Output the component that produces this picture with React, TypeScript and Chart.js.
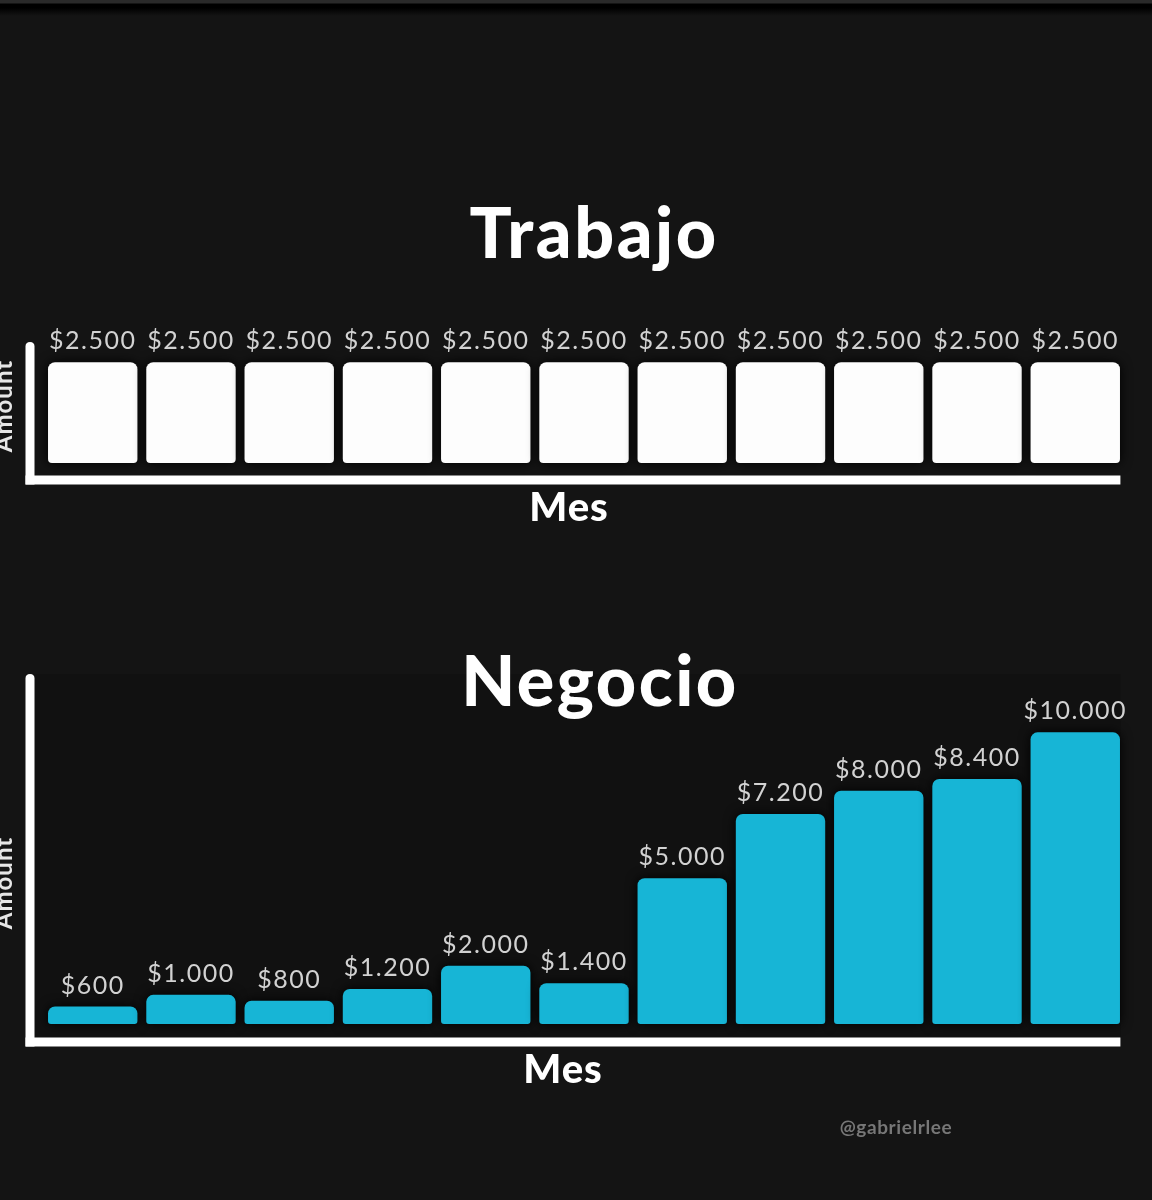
import React, { useEffect, useRef } from 'react';
import { Chart, registerables } from 'chart.js';

Chart.register(...registerables);

// ---- data ----
const months = ['Ene', 'Feb', 'Mar', 'Abr', 'May', 'Jun', 'Jul', 'Ago', 'Sep', 'Oct', 'Nov'];
const trabajoValues = [2500, 2500, 2500, 2500, 2500, 2500, 2500, 2500, 2500, 2500, 2500];
const negocioValues = [600, 1000, 800, 1200, 2000, 1400, 5000, 7200, 8000, 8400, 10000];
const trabajoTitle = 'Trabajo';
const negocioTitle = 'Negocio';
const xAxisTitle = 'Mes';
const yAxisTitle = 'Amount';
const watermark = '@gabrielrlee';

const fmt = (v: number) => '$' + String(v).replace(/\B(?=(\d{3})+(?!\d))/g, '.');

const FONT = "Lato, 'Open Sans', sans-serif";

const decorPlugin = {
  id: 'decor',
  beforeDatasetsDraw(chart: any, _args: any, opts: any) {
    const { ctx, chartArea } = chart;
    const lw = opts.lineW;
    const vx = chartArea.left - opts.axisOffsetX;
    const hy = chartArea.bottom + opts.axisOffsetY;
    ctx.save();
    if (opts.plotBg) {
      ctx.fillStyle = opts.plotBg;
      ctx.fillRect(vx + lw / 2, chartArea.top, chartArea.right - opts.lineRightInset - (vx + lw / 2), hy - lw / 2 - chartArea.top);
    }
    ctx.fillStyle = '#ffffff';
    ctx.beginPath();
    const top = chartArea.top + opts.vTopInset;
    ctx.moveTo(vx - lw / 2, hy + lw / 2);
    ctx.lineTo(vx - lw / 2, top + lw / 2);
    ctx.quadraticCurveTo(vx - lw / 2, top, vx, top);
    ctx.quadraticCurveTo(vx + lw / 2, top, vx + lw / 2, top + lw / 2);
    ctx.lineTo(vx + lw / 2, hy + lw / 2);
    ctx.closePath();
    ctx.fill();
    ctx.fillRect(vx - lw / 2, hy - lw / 2, chartArea.right - opts.lineRightInset - (vx - lw / 2), lw);
    ctx.restore();
    ctx.save();
    ctx.shadowColor = 'rgba(0,0,0,1)';
    ctx.shadowBlur = opts.shadowBlur;
  },
  afterDatasetsDraw(chart: any, _args: any, opts: any) {
    const { ctx } = chart;
    ctx.restore();
    const meta = chart.getDatasetMeta(0);
    const values = chart.data.datasets[0].data;
    ctx.save();
    ctx.fillStyle = opts.labelColor;
    ctx.font = `400 ${opts.labelSize}px ${FONT}`;
    ctx.textAlign = 'center';
    ctx.textBaseline = 'alphabetic';
    (ctx as any).letterSpacing = opts.labelSpacing + 'px';
    meta.data.forEach((bar: any, i: number) => {
      ctx.fillText(fmt(values[i]), bar.x, bar.y - opts.labelGap);
    });
    ctx.restore();
  },
  afterDraw(chart: any, _args: any, opts: any) {
    const { ctx } = chart;
    ctx.save();
    ctx.fillStyle = '#ffffff';
    ctx.textAlign = 'center';
    ctx.textBaseline = 'alphabetic';
    (ctx as any).letterSpacing = opts.titleSpacing + 'px';
    ctx.font = `900 ${opts.titleSize}px ${FONT}`;
    ctx.fillText(opts.title.text, opts.title.x, opts.title.y);
    (ctx as any).letterSpacing = opts.xLabelSpacing + 'px';
    ctx.font = `900 ${opts.xLabelSize}px ${FONT}`;
    ctx.fillText(opts.xLabel.text, opts.xLabel.x, opts.xLabel.y);
    ctx.save();
    ctx.translate(opts.yLabel.x, opts.yLabel.y);
    ctx.rotate(-Math.PI / 2);
    ctx.fillStyle = '#e6e6e6';
    (ctx as any).letterSpacing = '1px';
    ctx.font = `700 ${opts.yLabelSize}px ${FONT}`;
    ctx.fillText(opts.yLabel.text, 0, 0);
    ctx.restore();
    if (opts.watermark) {
      ctx.fillStyle = '#777777';
      (ctx as any).letterSpacing = '0.6px';
      ctx.font = `700 19px ${FONT}`;
      ctx.textBaseline = 'middle';
      ctx.fillText(opts.watermark.text, opts.watermark.x, opts.watermark.y);
    }
    ctx.restore();
  },
};

function BarPanel(props: {
  values: number[];
  max: number;
  color: string;
  top: number;
  height: number;
  padding: { left: number; right: number; top: number; bottom: number };
  decor: any;
  radius: any;
}) {
  const ref = useRef<HTMLCanvasElement | null>(null);
  useEffect(() => {
    if (!ref.current) return;
    const chart = new Chart(ref.current, {
      type: 'bar',
      data: {
        labels: months,
        datasets: [
          {
            data: props.values,
            backgroundColor: props.color,
            borderWidth: 0,
            borderRadius: props.radius,
            borderSkipped: false,
            barPercentage: 0.91,
            categoryPercentage: 1,
            clip: false as any,
          },
        ],
      },
      options: {
        animation: false,
        responsive: false,
        maintainAspectRatio: false,
        layout: { padding: props.padding },
        scales: {
          x: { display: false },
          y: { display: false, min: 0, max: props.max },
        },
        plugins: {
          legend: { display: false },
          tooltip: { enabled: false },
          decor: props.decor,
        } as any,
      },
      plugins: [decorPlugin],
    });
    return () => chart.destroy();
  }, []);
  return (
    <canvas
      ref={ref}
      width={1152}
      height={props.height}
      style={{ position: 'absolute', left: 0, top: props.top, width: 1152, height: props.height }}
    />
  );
}

export default function App() {
  const baseDecor = {
    lineW: 9,
    axisOffsetX: 13.6,
    lineRightInset: 4,
    shadowBlur: 12,
    labelColor: '#d2d2d2',
    labelSize: 25,
    labelSpacing: 1.5,
    labelGap: 13,
    titleSize: 70,
    titleSpacing: 2.5,
    xLabelSize: 40,
    xLabelSpacing: 1,
    yLabelSize: 24,
  };
  return (
    <div
      style={{
        position: 'absolute',
        left: 0,
        top: 0,
        width: 1152,
        height: 1200,
        background: '#141414',
        overflow: 'hidden',
      }}
    >
      <div
        style={{
          position: 'absolute',
          left: 0,
          top: 0,
          width: 1152,
          height: 16,
          background: 'linear-gradient(#2a2a2a 0px, #2a2a2a 3px, #000 4px, #000 8px, #141414 16px)',
        }}
      />
      <BarPanel
        values={trabajoValues}
        max={3000}
        color="#fdfdfd"
        top={170}
        height={380}
        padding={{ left: 43.6, right: 27.6, top: 172, bottom: 87 }}
        radius={{ topLeft: 7, topRight: 7, bottomLeft: 4, bottomRight: 4 }}
        decor={{
          ...baseDecor,
          axisOffsetY: 17,
          vTopInset: 0,
          plotBg: null,
          title: { text: trabajoTitle, x: 594, y: 88 },
          xLabel: { text: xAxisTitle, x: 569, y: 351 },
          yLabel: { text: yAxisTitle, x: 12, y: 236 },
        }}
      />
      <BarPanel
        values={negocioValues}
        max={12000}
        color="#17b5d6"
        top={620}
        height={540}
        padding={{ left: 43.6, right: 27.6, top: 54, bottom: 136 }}
        radius={{ topLeft: 7, topRight: 7, bottomLeft: 3, bottomRight: 3 }}
        decor={{
          ...baseDecor,
          axisOffsetY: 18,
          vTopInset: 0,
          plotBg: '#111111',
          title: { text: negocioTitle, x: 600, y: 86 },
          xLabel: { text: xAxisTitle, x: 563, y: 463 },
          yLabel: { text: yAxisTitle, x: 12, y: 263 },
          watermark: { text: watermark, x: 896, y: 508 },
        }}
      />
    </div>
  );
}
